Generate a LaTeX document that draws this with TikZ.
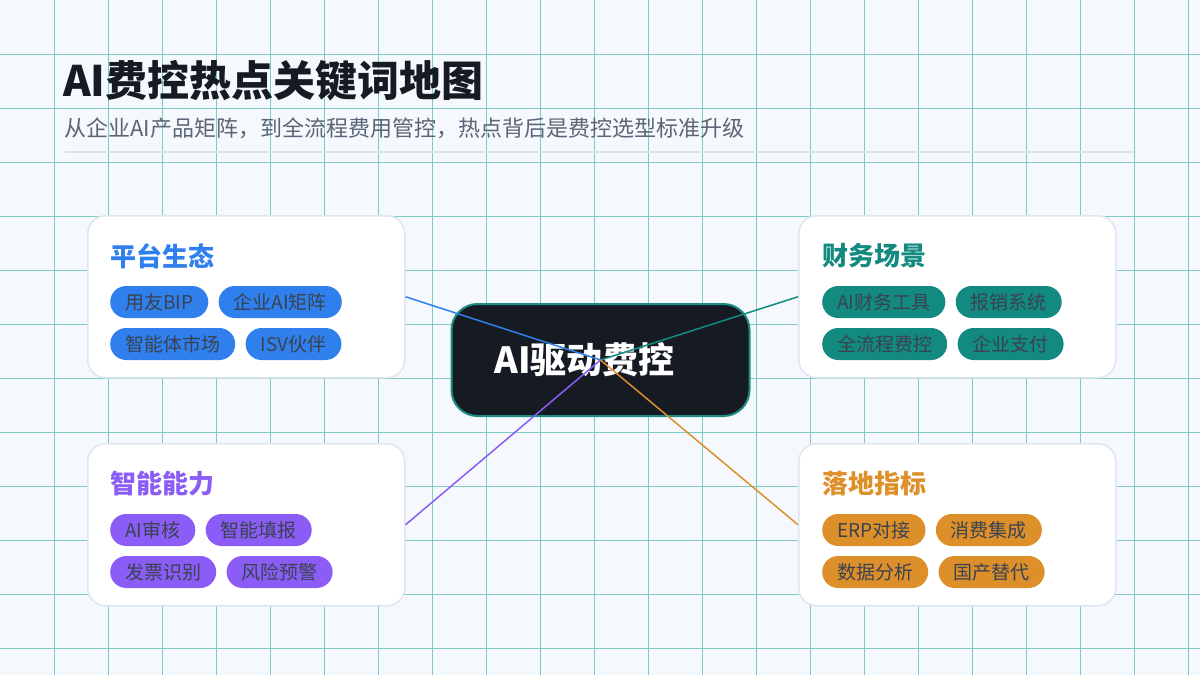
\documentclass[tikz,border=0pt]{standalone}
\usepackage{fontspec}
\setmainfont{Noto Sans CJK SC}
\usepackage{xcolor}
\usepackage{tikz}
\usetikzlibrary{positioning, arrows.meta, calc}
\definecolor{mapbg}{HTML}{F5F8FC}
\definecolor{mapgrid}{HTML}{7ECBC1}
\definecolor{mapink}{HTML}{161A22}
\definecolor{mapsub}{HTML}{5B6577}
\definecolor{maprule}{HTML}{DDE3EC}
\definecolor{mapframe}{HTML}{DFE6EF}
\definecolor{kwblue}{HTML}{2F80ED}
\definecolor{kwteal}{HTML}{138A80}
\definecolor{kwpurple}{HTML}{8B5CF6}
\definecolor{kworange}{HTML}{DD8F2A}
\definecolor{chipink}{HTML}{3A4250}
\definecolor{hubfill}{HTML}{151A23}
\definecolor{hubline}{HTML}{1D8C83}

\begin{document}
\begin{tikzpicture}[
  x=1pt, y=-1pt,
  gridline/.style={draw=mapgrid, line width=0.8pt},
  panel/.style={
    rectangle, rounded corners=18pt, draw=mapframe, line width=1.5pt,
    fill=white, minimum width=317pt, minimum height=162pt,
    anchor=north west, inner sep=0pt
  },
  paneltitle/.style={
    anchor=west, inner sep=0pt, text=#1,
    font=\fontsize{26}{30}\selectfont\bfseries
  },
  chip/.style={
    rectangle, rounded corners=16pt, fill=#1, text=chipink,
    minimum height=32pt, inner xsep=15pt, inner ysep=0pt,
    font=\fontsize{19}{22}\selectfont
  },
  chip/.default=kwblue,
  hubbox/.style={
    rectangle, rounded corners=26pt, draw=hubline, line width=2pt,
    fill=hubfill, minimum width=298pt, minimum height=112pt
  },
  hubtext/.style={text=white, inner sep=0pt,
    font=\fontsize{36}{40}\selectfont\bfseries},
  link/.style={draw=#1, line width=1.5pt},
]
\useasboundingbox (0,0) rectangle (1200,675);

% --- Background and grid ---
\fill[mapbg] (0,0) rectangle (1200,675);
\foreach \gx in {54,108,...,1188}
  \draw[gridline] (\gx,0) -- (\gx,675);
\foreach \gy in {54,108,...,648}
  \draw[gridline] (0,\gy) -- (1200,\gy);

% --- Header ---
\node[anchor=west, inner sep=0pt, text=mapink,
      font=\fontsize{42}{48}\selectfont\bfseries] (title) at (63,81)
  {AI费控热点关键词地图};
\node[anchor=west, inner sep=0pt, text=mapsub,
      font=\fontsize{22}{26}\selectfont] (subtitle) at (64,128)
  {从企业AI产品矩阵，到全流程费用管控，热点背后是费控选型标准升级};
\coordinate (ruleL) at (65,152);
\coordinate (ruleR) at (1134,152);
\draw[maprule, line width=2pt] (ruleL) -- (ruleR);

% --- Panels ---
\node[panel] (plat) at (87,215) {};
\node[panel] (fin) at (798,215) {};
\node[panel] (abil) at (87,443) {};
\node[panel] (kpi) at (798,443) {};

% --- Panel: platform ---
\node[paneltitle=kwblue] (platT) at ([shift={(23,41)}]plat.north west) {平台生态};
\node[chip=kwblue, anchor=west] (plat1) at ([shift={(23,87)}]plat.north west) {用友BIP};
\node[chip=kwblue, right=10pt of plat1] (plat2) {企业AI矩阵};
\node[chip=kwblue, anchor=west] (plat3) at ([shift={(23,129)}]plat.north west) {智能体市场};
\node[chip=kwblue, right=10pt of plat3] (plat4) {ISV伙伴};

% --- Panel: finance scenes ---
\node[paneltitle=kwteal] (finT) at ([shift={(24,41)}]fin.north west) {财务场景};
\node[chip=kwteal, anchor=west] (fin1) at ([shift={(24,87)}]fin.north west) {AI财务工具};
\node[chip=kwteal, right=10pt of fin1] (fin2) {报销系统};
\node[chip=kwteal, anchor=west] (fin3) at ([shift={(24,129)}]fin.north west) {全流程费控};
\node[chip=kwteal, right=10pt of fin3] (fin4) {企业支付};

% --- Panel: abilities ---
\node[paneltitle=kwpurple] (abilT) at ([shift={(23,41)}]abil.north west) {智能能力};
\node[chip=kwpurple, anchor=west] (abil1) at ([shift={(23,87)}]abil.north west) {AI审核};
\node[chip=kwpurple, right=10pt of abil1] (abil2) {智能填报};
\node[chip=kwpurple, anchor=west] (abil3) at ([shift={(23,129)}]abil.north west) {发票识别};
\node[chip=kwpurple, right=10pt of abil3] (abil4) {风险预警};

% --- Panel: landing metrics ---
\node[paneltitle=kworange] (kpiT) at ([shift={(24,41)}]kpi.north west) {落地指标};
\node[chip=kworange, anchor=west] (kpi1) at ([shift={(24,87)}]kpi.north west) {ERP对接};
\node[chip=kworange, right=10pt of kpi1] (kpi2) {消费集成};
\node[chip=kworange, anchor=west] (kpi3) at ([shift={(24,129)}]kpi.north west) {数据分析};
\node[chip=kworange, right=10pt of kpi3] (kpi4) {国产替代};

% --- Hub ---
\node[hubbox] (hub) at (600.5,360) {};
\node[hubtext] (hubT) at ([xshift=-16pt]hub.center) {AI驱动费控};

% --- Links ---
\draw[link=kwblue] (plat.east) -- (hub.center);
\draw[link=kwteal] (fin.west) -- (hub.center);
\draw[link=kwpurple] (abil.east) -- (hub.center);
\draw[link=kworange] (kpi.west) -- (hub.center);

\end{tikzpicture}
\end{document}
